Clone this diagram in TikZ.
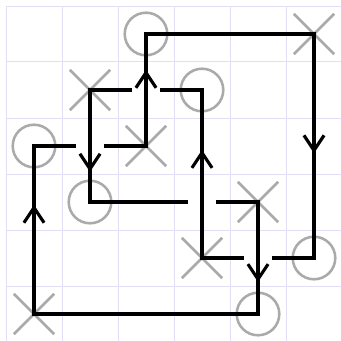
\documentclass[tikz,border=0pt]{standalone}
\usetikzlibrary{arrows.meta,shapes.misc,decorations.markings}
\definecolor{gridlav}{RGB}{226,222,245}
\definecolor{markgray}{RGB}{170,170,170}
\begin{document}
\begin{tikzpicture}[
  xm/.style={cross out,draw=markgray,line width=1.3pt,minimum size=0.72cm,inner sep=0pt,outer sep=0pt},
  om/.style={circle,draw=markgray,line width=1.3pt,minimum size=0.76cm,inner sep=0pt,outer sep=0pt},
  ln/.style={line width=1.6pt,line cap=rect},
  gap/.style={fill=white,minimum width=0.5cm,minimum height=0.12cm,inner sep=0pt},
  arr/.style={postaction={decorate},decoration={markings,
    mark=at position #1 with {\arrow{Straight Barb[length=2.7mm,width=3.6mm]}}}}]
  \useasboundingbox (-0.107,0.018) rectangle (5.982,6.107);
  \draw[gridlav,line width=0.5pt] (0,0) grid (6,6);
  % marks, one X and one O per row
  \node[xm] (x0) at (0.5,0.5) {}; \node[om] (o0) at (4.5,0.5) {};
  \node[xm] (x1) at (3.5,1.5) {}; \node[om] (o1) at (5.5,1.5) {};
  \node[xm] (x2) at (4.5,2.5) {}; \node[om] (o2) at (1.5,2.5) {};
  \node[xm] (x3) at (2.5,3.5) {}; \node[om] (o3) at (0.5,3.5) {};
  \node[xm] (x4) at (1.5,4.5) {}; \node[om] (o4) at (3.5,4.5) {};
  \node[xm] (x5) at (5.5,5.5) {}; \node[om] (o5) at (2.5,5.5) {};
  % horizontal strands
  \foreach \r in {0,...,5} \draw[ln] (o\r.center) -- (x\r.center);
  % breaks where verticals cross over
  \node[gap] (g3) at (x4 |- o3) {};
  \node[gap] (g4) at (x3 |- o4) {};
  \node[gap] (g2) at (x1 |- o2) {};
  \node[gap] (g1) at (o0 |- x1) {};
  % vertical strands
  \draw[ln,arr=1.95cm] (x0.center) -- (o3.center);
  \draw[ln,arr=1.46cm] (x4.center) -- (o2.center);
  \draw[ln,arr=1.36cm] (x3.center) -- (o5.center);
  \draw[ln,arr=1.93cm] (x1.center) -- (o4.center);
  \draw[ln,arr=1.43cm] (x2.center) -- (o0.center);
  \draw[ln,arr=2.13cm] (x5.center) -- (o1.center);
\end{tikzpicture}
\end{document}
